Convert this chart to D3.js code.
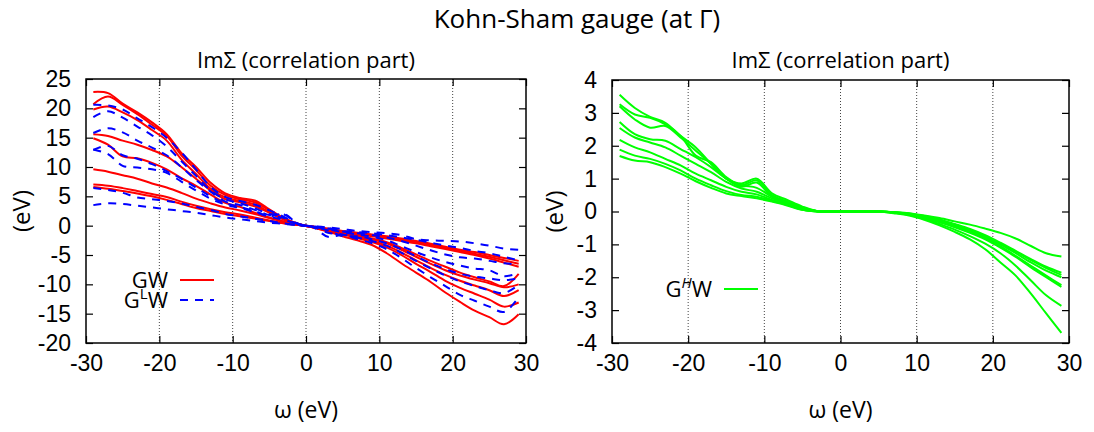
<html>
<head>
    <meta charset="utf-8">
    <style>
        body { margin: 0; background: white; }
        svg { font-family: "Open Sans", sans-serif; }
    </style>
    <script src="https://d3js.org/d3.v7.min.js"></script>
</head>
<body>
    <svg id="chart" width="1094" height="432"></svg>
<script>
    // energy grid (eV)
    let omega = [-29, -27, -25, -23, -21, -19, -17, -15, -13, -11, -9, -7, -5, -3, -1,
                 1, 3, 5, 7, 9, 11, 13, 15, 17, 19, 21, 23, 25, 27, 29]

    // GW (red, solid)
    let gwCurves = [
        [22.8, 22.6, 20.8, 19.3, 17.6, 15.6, 12.4, 10.0, 7.3, 5.5, 4.7, 4.3, 2.8, 1.3, 0.3,
         -0.3, -1.0, -1.8, -2.5, -3.3, -4.7, -6.4, -8.0, -9.6, -11.4, -13.0, -14.5, -15.6, -16.8, -15.1],
        [20.7, 22.0, 20.6, 19.0, 17.2, 15.3, 12.0, 9.5, 6.8, 5.2, 4.5, 4.0, 2.6, 1.2, 0.3,
         -0.3, -0.9, -1.5, -2.1, -2.8, -3.7, -5.0, -6.5, -7.9, -9.4, -10.6, -11.6, -12.6, -13.8, -13.1],
        [19.8, 20.3, 19.3, 18.0, 16.3, 14.5, 11.3, 8.8, 6.3, 4.8, 4.2, 3.6, 2.3, 1.1, 0.2,
         -0.3, -0.8, -1.4, -2.0, -2.6, -3.4, -4.6, -5.9, -7.2, -8.4, -9.4, -10.2, -11.0, -12.0, -11.0],
        [15.6, 15.3, 14.5, 13.8, 12.9, 11.8, 10.0, 8.0, 6.0, 4.5, 4.0, 3.3, 2.2, 1.0, 0.2,
         -0.2, -0.7, -1.3, -1.8, -2.3, -3.0, -4.1, -5.3, -6.5, -7.6, -8.5, -9.2, -9.8, -10.5, -10.0],
        [14.9, 13.8, 11.8, 11.5, 10.7, 9.6, 8.1, 6.8, 5.3, 3.9, 3.2, 2.2, 1.4, 0.6, 0.1,
         -0.2, -0.7, -1.2, -1.7, -2.2, -2.8, -3.8, -4.9, -6.0, -7.0, -8.0, -8.8, -9.5, -10.3, -8.2],
        [9.6, 9.2, 8.6, 8.0, 7.2, 6.5, 5.6, 4.6, 3.8, 3.1, 2.6, 2.0, 1.3, 0.7, 0.2,
         -0.2, -0.5, -0.9, -1.2, -1.5, -1.8, -2.2, -2.6, -3.1, -3.6, -4.1, -4.5, -5.0, -5.5, -6.0],
        [7.0, 6.8, 6.4, 5.9, 5.4, 4.9, 4.1, 3.4, 2.8, 2.3, 1.9, 1.4, 0.9, 0.4, 0.1,
         -0.2, -0.6, -1.0, -1.3, -1.6, -2.0, -2.4, -2.8, -3.3, -3.8, -4.3, -4.8, -5.3, -5.9, -6.5],
        [6.6, 6.3, 5.9, 5.5, 5.0, 4.4, 3.7, 3.0, 2.5, 2.0, 1.6, 1.2, 0.8, 0.4, 0.1,
         -0.2, -0.6, -1.1, -1.5, -1.8, -2.2, -2.6, -3.0, -3.5, -4.0, -4.5, -5.0, -5.6, -6.3, -7.0]
    ]

    // G^L W (blue, dashed)
    let glwCurves = [
        [20.6, 20.5, 19.8, 18.3, 16.8, 15.0, 12.5, 9.6, 6.6, 4.9, 4.2, 3.6, 2.6, 1.5, 0.3,
         -0.3, -1.9, -1.6, -2.3, -3.0, -4.0, -5.5, -7.2, -8.8, -10.3, -11.8, -12.8, -13.8, -14.7, -12.2],
        [18.5, 19.5, 18.4, 16.9, 15.4, 13.5, 11.0, 8.5, 6.0, 4.5, 3.8, 3.0, 2.0, 1.9, 0.3,
         -0.2, -1.2, -1.5, -2.0, -2.6, -3.4, -4.6, -6.0, -7.3, -8.5, -9.5, -10.3, -11.0, -11.5, -10.1],
        [15.8, 16.6, 15.9, 14.5, 13.3, 12.0, 10.0, 7.8, 5.8, 4.1, 3.5, 2.7, 1.8, 1.3, 0.2,
         -0.2, -0.8, -1.8, -1.8, -2.3, -3.0, -4.0, -5.2, -6.4, -7.4, -8.2, -8.7, -9.0, -9.3, -9.0],
        [13.0, 12.2, 10.2, 9.9, 9.6, 9.0, 7.5, 6.0, 4.6, 3.6, 3.0, 2.3, 1.5, 1.0, 0.2,
         -0.2, -0.6, -1.1, -1.5, -1.9, -2.5, -3.5, -4.5, -5.4, -6.2, -6.8, -7.3, -7.6, -8.6, -8.1],
        [12.9, 13.6, 12.0, 11.4, 10.5, 9.3, 8.0, 6.5, 5.0, 3.8, 3.2, 2.5, 1.6, 2.0, 0.2,
         -0.2, -0.5, -1.0, -1.3, -1.6, -2.0, -2.6, -3.4, -4.2, -4.9, -5.4, -5.6, -6.0, -6.4, -6.6],
        [6.4, 6.1, 5.6, 4.8, 4.5, 4.2, 3.8, 3.2, 2.7, 2.0, 1.6, 1.2, 0.8, 0.4, 0.1,
         -0.1, -0.4, -0.9, -1.1, -1.3, -1.6, -2.0, -2.4, -2.9, -3.4, -3.8, -4.3, -4.7, -5.3, -5.9],
        [3.5, 3.8, 3.7, 3.4, 3.1, 2.8, 2.5, 2.2, 1.8, 1.4, 1.1, 0.8, 0.5, 0.3, 0.05,
         -0.1, -0.3, -0.6, -0.9, -1.1, -1.3, -1.6, -2.3, -2.5, -2.6, -2.7, -3.0, -3.4, -3.9, -4.1]
    ]

    // G^H W (green, solid)
    let ghwCurves = [
        [3.55, 3.15, 2.88, 2.7, 2.3, 1.95, 1.45, 1.0, 0.85, 1.0, 0.55, 0.35, 0.15, 0.01, 0,
         0, 0, 0, -0.05, -0.12, -0.25, -0.42, -0.62, -0.85, -1.15, -1.55, -1.95, -2.5, -3.1, -3.69],
        [3.26, 2.95, 2.85, 2.65, 2.3, 1.7, 1.5, 1.05, 0.8, 0.95, 0.5, 0.3, 0.12, 0.01, 0,
         0, 0, 0, -0.04, -0.1, -0.22, -0.38, -0.55, -0.75, -0.98, -1.27, -1.65, -2.1, -2.55, -2.87],
        [3.2, 2.8, 2.55, 2.6, 2.25, 1.85, 1.45, 1.0, 0.75, 0.88, 0.45, 0.3, 0.1, 0.01, 0,
         0, 0, 0, -0.03, -0.1, -0.2, -0.33, -0.48, -0.65, -0.85, -1.1, -1.38, -1.7, -2.0, -2.29],
        [2.72, 2.35, 2.2, 2.15, 1.9, 1.65, 1.35, 1.0, 0.8, 0.72, 0.45, 0.28, 0.1, 0.01, 0,
         0, 0, 0, -0.03, -0.09, -0.18, -0.3, -0.45, -0.62, -0.82, -1.05, -1.35, -1.65, -1.95, -2.24],
        [2.54, 2.25, 2.1, 1.95, 1.7, 1.45, 1.2, 0.9, 0.7, 0.6, 0.4, 0.25, 0.08, 0.01, 0,
         0, 0, 0, -0.03, -0.08, -0.17, -0.28, -0.42, -0.58, -0.78, -1.0, -1.27, -1.55, -1.8, -2.0],
        [2.18, 1.95, 1.8, 1.6, 1.4, 1.15, 0.95, 0.75, 0.6, 0.52, 0.35, 0.22, 0.06, 0, 0,
         0, 0, 0, -0.02, -0.07, -0.15, -0.26, -0.4, -0.56, -0.75, -0.98, -1.22, -1.48, -1.72, -1.93],
        [1.88, 1.7, 1.6, 1.45, 1.25, 1.0, 0.8, 0.62, 0.5, 0.45, 0.32, 0.2, 0.05, 0, 0,
         0, 0, 0, -0.02, -0.06, -0.14, -0.24, -0.38, -0.53, -0.72, -0.95, -1.2, -1.45, -1.68, -1.86],
        [1.69, 1.55, 1.5, 1.35, 1.15, 0.92, 0.72, 0.55, 0.47, 0.4, 0.3, 0.18, 0.05, 0, 0,
         0, 0, 0, -0.02, -0.05, -0.12, -0.2, -0.3, -0.4, -0.52, -0.65, -0.82, -1.05, -1.27, -1.37]
    ]

    // ticks
    let xTicks = [-30, -20, -10, 0, 10, 20, 30]
    let gridTicks = [-20, -10, 0, 10, 20]
    let leftYTicks = [-20, -15, -10, -5, 0, 5, 10, 15, 20, 25]
    let rightYTicks = [-4, -3, -2, -1, 0, 1, 2, 3, 4]

    let svg = d3.select("#chart")

    svg.append("text")
        .attr("x", 577).attr("y", 28)
        .attr("text-anchor", "middle")
        .style("font-size", "26px")
        .text("Kohn-Sham gauge (at Γ)")

    // plain hyphen for negatives, like the original
    let plain = d => String(d)

    // PANEL
    function drawPanel(config) {
        let { x0, x1, y0, y1, yDomain, yTicks } = config
        let xScale = d3.scaleLinear().domain([-30, 30]).range([x0, x1])
        let yScale = d3.scaleLinear().domain(yDomain).range([y1, y0])
        let g = svg.append("g")

        // dotted grid
        g.selectAll(".grid").data(gridTicks).enter().append("line")
            .attr("x1", d => xScale(d)).attr("x2", d => xScale(d))
            .attr("y1", y0).attr("y2", y1)
            .attr("stroke", "#444").attr("stroke-width", 1)
            .attr("stroke-dasharray", "1,2")

        // axes with inward ticks
        let left = g.append("g").attr("transform", `translate(${x0},0)`)
            .call(d3.axisLeft(yScale).tickValues(yTicks).tickFormat(plain).tickSize(-7).tickSizeOuter(0).tickPadding(15))
        let bottom = g.append("g").attr("transform", `translate(0,${y1})`)
            .call(d3.axisBottom(xScale).tickValues(xTicks).tickFormat(plain).tickSize(-7).tickSizeOuter(0).tickPadding(12))
        let right = g.append("g").attr("transform", `translate(${x1},0)`)
            .call(d3.axisRight(yScale).tickValues(yTicks).tickSize(-7).tickSizeOuter(0).tickFormat(""))
        let top = g.append("g").attr("transform", `translate(0,${y0})`)
            .call(d3.axisTop(xScale).tickValues(xTicks).tickSize(-7).tickSizeOuter(0).tickFormat(""))
        for (let ax of [left, bottom, right, top]) {
            ax.select(".domain").remove()
            ax.selectAll("line").attr("stroke", "#000").attr("stroke-width", 1.2)
            ax.selectAll("text").style("font-size", "23px").attr("font-family", null).attr("fill", "#000")
        }

        // curves
        let line = d3.line()
            .x((d, i) => xScale(omega[i]))
            .y(d => yScale(d))
            .curve(d3.curveCatmullRom.alpha(0.5))
        for (let s of config.series) {
            g.append("g").selectAll("path").data(s.curves).enter().append("path")
                .attr("d", line)
                .attr("fill", "none")
                .attr("stroke", s.color)
                .attr("stroke-width", 2)
                .attr("stroke-dasharray", s.dash || null)
        }

        // frame
        g.append("rect")
            .attr("x", x0).attr("y", y0)
            .attr("width", x1 - x0).attr("height", y1 - y0)
            .attr("fill", "none").attr("stroke", "#000").attr("stroke-width", 1.5)

        // labels
        let cx = (x0 + x1) / 2
        g.append("text").attr("x", cx).attr("y", 68).attr("text-anchor", "middle")
            .style("font-size", "22px").text("ImΣ (correlation part)")
        g.append("text").attr("x", cx).attr("y", 418).attr("text-anchor", "middle")
            .style("font-size", "23px").text("ω (eV)")
        g.append("text")
            .attr("transform", `translate(${config.yLabelX},${(y0 + y1) / 2}) rotate(-90)`)
            .attr("text-anchor", "middle").attr("dy", "0.35em")
            .style("font-size", "24px").text("(eV)")

        // legend
        config.series.forEach((s, i) => {
            let ly = config.legendY + i * 20
            let t = g.append("text").attr("x", config.legendX).attr("y", ly + 8)
                .attr("text-anchor", "end").style("font-size", "22px")
            t.append("tspan").text("G")
            if (s.sup) {
                t.append("tspan").attr("dy", -9).style("font-size", "15px")
                    .style("font-style", s.supItalic ? "italic" : "normal").text(s.sup)
                t.append("tspan").attr("dy", 9).text("W")
            } else {
                t.append("tspan").text("W")
            }
            g.append("line")
                .attr("x1", config.legendX + 12).attr("x2", config.legendX + 46)
                .attr("y1", ly).attr("y2", ly)
                .attr("stroke", s.color).attr("stroke-width", 2)
                .attr("stroke-dasharray", s.dash || null)
        })
    }

    drawPanel({
        x0: 86, x1: 526, y0: 79, y1: 343,
        yDomain: [-20, 25], yTicks: leftYTicks,
        yLabelX: 22,
        legendX: 168, legendY: 280,
        series: [
            { curves: gwCurves, color: "#ff0000" },
            { curves: glwCurves, color: "#0000ff", dash: "8,7", sup: "L" }
        ]
    })

    drawPanel({
        x0: 612, x1: 1069, y0: 80, y1: 343,
        yDomain: [-4, 4], yTicks: rightYTicks,
        yLabelX: 555,
        legendX: 712, legendY: 289,
        series: [
            { curves: ghwCurves, color: "#00ff00", sup: "H", supItalic: true }
        ]
    })
</script>
</body>
</html>
